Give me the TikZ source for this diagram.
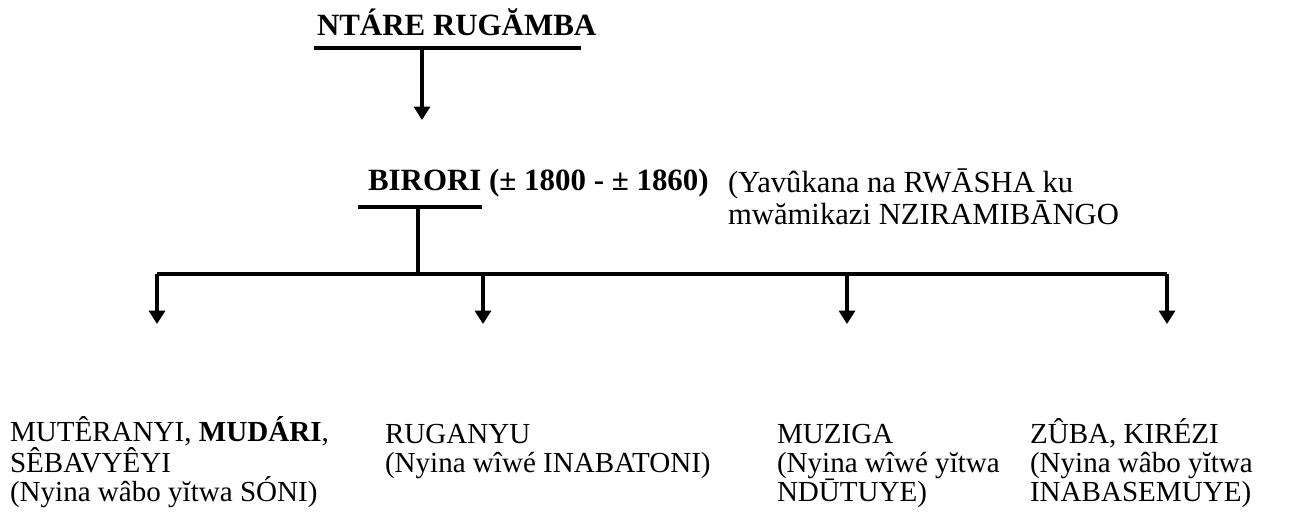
\documentclass[tikz,border=0pt]{standalone}
\usepackage{fontspec}
\setmainfont{Liberation Serif}
\usepackage{tikz}
\usetikzlibrary{arrows.meta,positioning}
\tikzset{every node/.style={inner sep=0pt,outer sep=0pt}}
\tikzset{ttl/.style={font=\fontsize{23.2}{23}\selectfont\bfseries,anchor=base west},
         kid/.style={font=\fontsize{21.8}{21.75}\selectfont,align=left,anchor=base west},
         bar/.style={line width=2.5pt},
         down/.style={line width=2.3pt,-{Triangle[length=10pt,width=12pt]}}}
% kids are placed by the baseline of their last line
\newcommand{\kidpt}[3]{\node[kid] at (#1) (#2) {#3}}

\begin{document}
\begin{tikzpicture}[x=0.75pt,y=-0.75pt]
        \useasboundingbox (0,0) rectangle (1306,511);
        \node[ttl] (ntare) at (317,35) {NTÁRE RUGĂMBA};
        \node[ttl] (birori) at (368,190) {BIRORI (± 1800 - ± 1860)};
        \node[kid,font=\fontsize{23}{20.8}\selectfont] (note) at (728,224) {(Yavûkana na RWĀSHA ku\\mwămikazi NZIRAMIBĀNGO};
        \kidpt{10,501}{muteranyi}{MUTÊRANYI, \textbf{MUDÁRI},\\SÊBAVYÊYI\\(Nyina wâbo yĭtwa SÓNI)};
        \kidpt{385,472}{ruganyu}{RUGANYU\\(Nyina wîwé INABATONI)};
        \kidpt{777,501}{muziga}{MUZIGA\\(Nyina wîwé yĭtwa\\NDŪTUYE)};
        \kidpt{1030,501}{zuba}{ZÛBA, KIRÉZI\\(Nyina wâbo yĭtwa\\INABASEMUYE)};
        % underlines and joints
        \coordinate (ntareL) at (314,48);
        \coordinate (ntareR) at (581,48);
        \coordinate (ntareD) at (422,48);
        \coordinate (biroriT) at (422,120);
        \coordinate (biroriL) at (358,207);
        \coordinate (biroriR) at (482,207);
        \coordinate (biroriD) at (418,207);
        \coordinate (fork) at (418,274);
        \coordinate (j1) at (157,274);
        \coordinate (j2) at (483,274);
        \coordinate (j3) at (847,274);
        \coordinate (j4) at (1167,274);
        \coordinate (t1) at (157,324);
        \coordinate (t2) at (483,324);
        \coordinate (t3) at (847,324);
        \coordinate (t4) at (1167,324);
        \draw[bar]
        (ntareL) -- (ntareR)
        (biroriL) -- (biroriR)
        (biroriD) -- (fork)
        (j1) -- (j4);
        \draw[down] (ntareD) -- (biroriT);
        \draw[down] (j1) -- (t1);
        \draw[down] (j2) -- (t2);
        \draw[down] (j3) -- (t3);
        \draw[down] (j4) -- (t4);
    \end{tikzpicture}
\end{document}
